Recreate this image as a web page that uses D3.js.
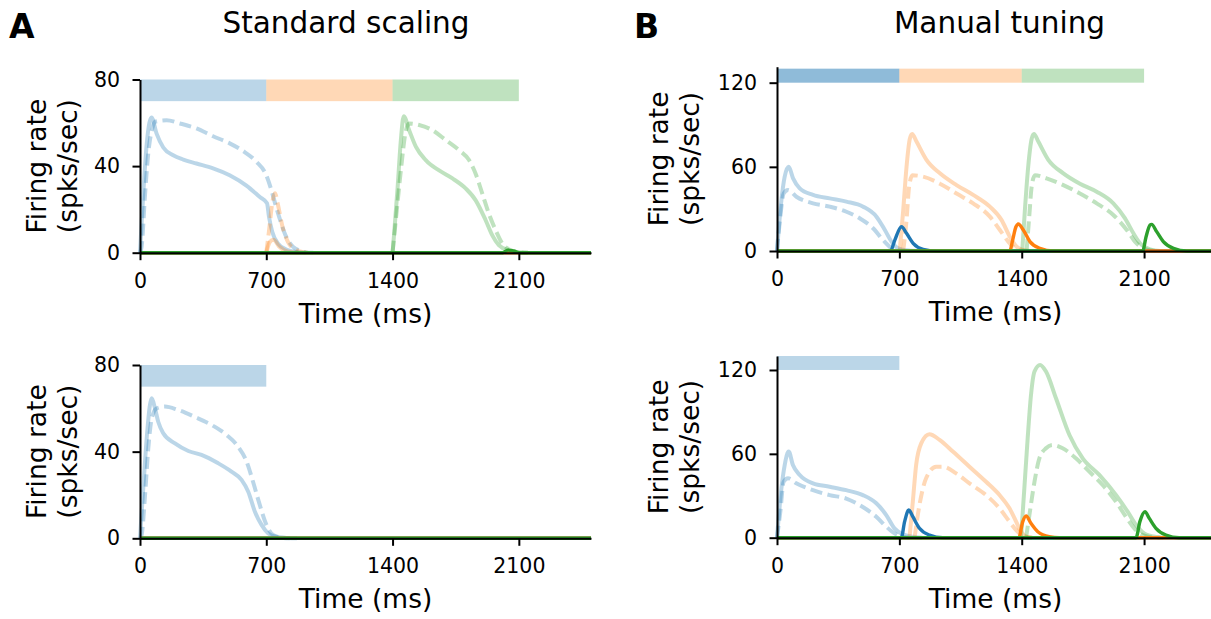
<html>
<head>
<meta charset="utf-8">
<script src="https://d3js.org/d3.v7.min.js"></script>
<style>
  body { margin: 0; background: #fff; }
  svg { display: block; font-family: "DejaVu Sans", sans-serif; }
</style>
</head>
<body>
<svg id="fig" width="1211" height="619"></svg>
<script>

// ---- data (time in ms, rate in spks/sec) ----
var timeTicks = [0, 700, 1400, 2100];
var rateTicksA = [0, 40, 80];
var rateTicksB = [0, 60, 120];
var titles = ["Standard scaling", "Manual tuning"];
var letters = ["A", "B"];

// stimulus windows shown as bars above the traces
var stimAll = [[0, 700], [700, 1400], [1400, 2100]];
var stimFirst = [[0, 700]];

// A, top
var aTopBlue = [[0,0],[18,27],[37,50],[52,60],[64,62.5],[92,55],[129,48.6],[184,45],[240,43],[313,41.2],[405,39],[497,35.8],[590,31],[663,25.8],[704,22.8],[715,16.6],[733,9.7],[764,4.3],[810,1.5],[866,0.3],[920,0]];
var aTopBlueDash = [[0,0],[9,2.8],[28,27],[46,46],[70,58],[83,60.5],[147,61.2],[221,59.7],[313,57.4],[405,53.8],[497,50.5],[571,47],[645,42],[700,35.8],[728,29],[755,21],[783,13.5],[810,7.4],[847,2.8],[884,1],[921,0.15],[960,0]];
var aTopOrange = [[700,0],[720,5],[740,6],[770,3],[820,0.5],[880,0]];
var aTopOrangeDash = [[700,0],[715,10],[735,24],[748,27.5],[765,22],[790,12],[820,5],[860,1.5],[900,0.3],[950,0]];
var aTopGreen = [[1400,0],[1409,9],[1428,30],[1446,52],[1462,63],[1492,56.6],[1529,49],[1584,42.8],[1658,38],[1732,34.3],[1805,29.7],[1860,24.3],[1916,15],[1953,8],[1989,3.5],[2045,1],[2100,0.2],[2150,0]];
var aTopGreenDash = [[1400,0],[1418,15],[1446,38],[1473,56],[1492,59.7],[1547,59],[1621,56.6],[1695,52],[1768,47.4],[1824,42.8],[1860,36.6],[1897,27.4],[1934,18],[1971,10.5],[2008,4.3],[2054,1.2],[2109,0.15],[2150,0]];
var aTopBlueDark = [[0,0],[2500,0]];
var aTopOrangeDark = [[0,0],[2500,0]];
var aTopGreenDark = [[0,0],[2010,0],[2040,1.2],[2070,0.8],[2110,0],[2500,0]];

// A, bottom
var aBotBlue = [[0,0],[18,23],[37,46],[55,61.5],[65,64.6],[83,60],[101,53.8],[129,48.5],[194,43.8],[268,40.3],[341,38.5],[434,34.6],[507,30.8],[563,27],[600,21.5],[637,12.3],[674,6.2],[710,2.3],[747,0.8],[821,0.15],[870,0]];
var aBotBlueDash = [[0,0],[9,1.5],[28,20],[46,41.5],[65,55.4],[92,60],[138,60.8],[212,59.2],[305,56],[397,52.3],[480,47.7],[544,42.3],[591,35.4],[627,26],[664,15.4],[701,6.2],[738,1.5],[784,0.3],[830,0]];
var aBotBlueDark = [[0,0],[2500,0]];
var aBotOrangeDark = [[0,0],[2500,0]];
var aBotGreenDark = [[0,0],[2500,0]];

// B, top
var bTopBlue = [[0,0],[25,36],[44,53],[67,60],[92,51.8],[130,44.7],[206,40],[302,37.5],[397,35.2],[493,31.6],[569,24.5],[617,15],[655,6.7],[693,1.9],[741,0.5],[800,0]];
var bTopBlueDash = [[0,0],[19,24.5],[38,41],[63,43.5],[111,38.7],[206,34],[302,31.6],[397,28],[473,23.3],[550,16.2],[607,7.8],[645,3],[693,0.5],[730,0]];
var bTopOrange = [[702,0],[722,29],[741,60],[760,80],[773,83.4],[798,78],[855,65],[932,55.4],[1027,47],[1122,40],[1218,31.6],[1285,22],[1332,10.2],[1371,3],[1409,0.7],[1450,0]];
var bTopOrangeDash = [[722,0],[741,22],[756,46],[775,54],[836,53],[932,48],[1027,41],[1122,34],[1218,24.5],[1275,15],[1323,6.7],[1361,1.9],[1409,0.2],[1440,0]];
var bTopGreen = [[1403,0],[1418,29],[1437,60],[1457,80],[1470,83.4],[1495,78],[1552,65],[1638,55.4],[1733,48],[1829,42.3],[1924,34],[1991,23.3],[2039,12.6],[2077,5.5],[2134,1.2],[2191,0]];
var bTopGreenDash = [[1428,0],[1443,24.5],[1457,46],[1476,54],[1542,51.8],[1638,47],[1733,41],[1829,34],[1924,25.7],[2001,15],[2048,6.7],[2096,1.9],[2153,0.2],[2190,0]];
var bTopBlueDark = [[0,0],[649,0],[674,7.8],[712,17.3],[741,12.6],[779,5.5],[836,1.2],[912,0],[2500,0]];
var bTopOrangeDark = [[0,0],[1332,0],[1348,7.8],[1367,17.3],[1380,19.2],[1409,15],[1447,6.7],[1504,1.9],[1581,0],[2500,0]];
var bTopGreenDark = [[0,0],[2092,0],[2111,10],[2134,18.5],[2143,19],[2172,13.8],[2210,6.7],[2268,1.9],[2344,0],[2500,0]];

// B, bottom
var bBotBlue = [[0,0],[25,35],[44,52],[67,61.6],[91,52],[130,44.9],[206,38.9],[301,36.5],[396,34],[491,30.5],[568,24.6],[625,16.2],[672,6.7],[720,2.4],[777,0.7],[830,0]];
var bBotBlueDash = [[0,0],[19,18.6],[38,40],[63,42.5],[110,39],[206,34],[301,30.5],[396,28],[491,22],[568,15],[625,7.9],[672,3.1],[720,0.7],[760,0]];
var bBotOrange = [[758,0],[777,25.8],[796,52],[825,67.5],[872,74],[930,70],[1006,61.6],[1101,50.8],[1196,40],[1273,30.5],[1330,21],[1368,11.5],[1396,4.3],[1425,0.7],[1460,0]];
var bBotOrangeDash = [[787,0],[815,23.4],[853,42.5],[911,50.8],[949,50.8],[1025,46],[1101,38.9],[1196,30.5],[1273,21],[1330,11.5],[1377,4.3],[1425,0.7],[1460,0]];
var bBotGreen = [[1396,0],[1415,35.3],[1434,71],[1453,102],[1473,118.9],[1505,123.6],[1539,118.9],[1596,99.8],[1673,73.5],[1749,56.8],[1844,44.9],[1939,30.5],[2006,18.6],[2054,9.1],[2101,3.1],[2168,0.5],[2210,0]];
var bBotGreenDash = [[1425,0],[1444,16.2],[1473,40],[1501,56.8],[1539,64],[1577,66.3],[1634,64],[1710,56.8],[1787,47.3],[1863,37.7],[1939,25.8],[1996,15],[2044,6.7],[2092,1.9],[2149,0.2],[2190,0]];
var bBotBlueDark = [[0,0],[711,0],[730,11.5],[754,19.8],[777,15],[815,6.7],[872,1.9],[949,0],[2500,0]];
var bBotOrangeDark = [[0,0],[1383,0],[1406,11.5],[1425,15.5],[1453,10.3],[1492,4.3],[1558,0.7],[1615,0],[2500,0]];
var bBotGreenDark = [[0,0],[2054,0],[2076,11.5],[2105,18.6],[2130,13.8],[2168,6.7],[2225,1.9],[2301,0],[2500,0]];

// ---- drawing ----
var blue = "#1f77b4", orange = "#ff7f0e", green = "#2ca02c";
var barColors = [blue, orange, green];
var svg = d3.select("#fig");

var panels = [
  { left: 140, right: 591, top: 79.5, zero: 252.7, ymax: 80, yticks: rateTicksA, bar: [70, 80],
    stim: stimAll, barAlpha: [0.3, 0.3, 0.3], labX: 45.5,
    light: [[aTopBlue, blue], [aTopOrange, orange], [aTopGreen, green]],
    dashed: [[aTopBlueDash, blue], [aTopOrangeDash, orange], [aTopGreenDash, green]],
    dark: [[aTopBlueDark, blue], [aTopOrangeDark, orange], [aTopGreenDark, green]] },
  { left: 140, right: 591, top: 365, zero: 538.3, ymax: 80, yticks: rateTicksA, bar: [70, 80],
    stim: stimFirst, barAlpha: [0.3], labX: 45.5,
    light: [[aBotBlue, blue]],
    dashed: [[aBotBlueDash, blue]],
    dark: [[aBotBlueDark, blue], [aBotOrangeDark, orange], [aBotGreenDark, green]] },
  { left: 777, right: 1214, top: 66.7, zero: 251, ymax: 131.4, yticks: rateTicksB, bar: [120, 130],
    stim: stimAll, barAlpha: [0.5, 0.3, 0.3], labX: 667.5,
    light: [[bTopBlue, blue], [bTopOrange, orange], [bTopGreen, green]],
    dashed: [[bTopBlueDash, blue], [bTopOrangeDash, orange], [bTopGreenDash, green]],
    dark: [[bTopBlueDark, blue], [bTopOrangeDark, orange], [bTopGreenDark, green]] },
  { left: 777, right: 1214, top: 356, zero: 537.7, ymax: 130, yticks: rateTicksB, bar: [120, 130],
    stim: stimFirst, barAlpha: [0.3], labX: 667.5,
    light: [[bBotBlue, blue], [bBotOrange, orange], [bBotGreen, green]],
    dashed: [[bBotBlueDash, blue], [bBotOrangeDash, orange], [bBotGreenDash, green]],
    dark: [[bBotBlueDark, blue], [bBotOrangeDark, orange], [bBotGreenDark, green]] }
];

panels.forEach(function(p) {
  var x = d3.scaleLinear().domain([0, 2500]).range([p.left, p.right]);
  var y = d3.scaleLinear().domain([0, p.ymax]).range([p.zero, p.top]);
  var line = d3.line()
      .x(function(d) { return x(d[0]); })
      .y(function(d) { return y(d[1]); })
      .curve(d3.curveMonotoneX);

  var g = svg.append("g");

  // stimulus bars
  g.selectAll("rect.stim").data(p.stim).enter().append("rect")
      .attr("x", function(d) { return x(d[0]); })
      .attr("width", function(d) { return x(d[1]) - x(d[0]); })
      .attr("y", y(p.bar[1]))
      .attr("height", y(p.bar[0]) - y(p.bar[1]))
      .attr("fill", function(d, i) { return barColors[i]; })
      .attr("fill-opacity", function(d, i) { return p.barAlpha[i]; });

  p.light.forEach(function(s) {
    g.append("path").attr("d", line(s[0]))
        .attr("fill", "none").attr("stroke", s[1])
        .attr("stroke-opacity", 0.3).attr("stroke-width", 4)
        .attr("stroke-linejoin", "round");
  });
  p.dashed.forEach(function(s) {
    g.append("path").attr("d", line(s[0]))
        .attr("fill", "none").attr("stroke", s[1])
        .attr("stroke-opacity", 0.3).attr("stroke-width", 4)
        .attr("stroke-dasharray", "12,5.5");
  });
  p.dark.forEach(function(s) {
    g.append("path").attr("d", line(s[0]))
        .attr("fill", "none").attr("stroke", s[1])
        .attr("stroke-width", 3.4).attr("stroke-linejoin", "round");
  });

  // axes
  var ax = g.append("g")
      .attr("transform", "translate(0," + p.zero + ")")
      .call(d3.axisBottom(x).tickValues(timeTicks).tickFormat(d3.format("d"))
          .tickSize(7.5).tickPadding(13).tickSizeOuter(0));
  var ay = g.append("g")
      .attr("transform", "translate(" + p.left + ",0)")
      .call(d3.axisLeft(y).tickValues(p.yticks).tickFormat(d3.format("d"))
          .tickSize(7.5).tickPadding(12.5).tickSizeOuter(0));
  [ax, ay].forEach(function(a) {
    a.selectAll("path, line").attr("stroke", "#000").attr("stroke-width", 2);
    a.selectAll("text").attr("font-size", "20.5px").attr("fill", "#000")
        .attr("font-family", "DejaVu Sans, sans-serif");
  });

  // axis labels
  g.append("text")
      .attr("x", (p.left + x(2500)) / 2)
      .attr("y", p.zero + 70)
      .attr("text-anchor", "middle")
      .attr("font-size", "26.5px")
      .text("Time (ms)");
  var cy = (p.zero + p.top) / 2;
  ["Firing rate", "(spks/sec)"].forEach(function(t, i) {
    g.append("text")
        .attr("transform", "translate(" + (p.labX + i * 31) + "," + cy + ") rotate(-90)")
        .attr("text-anchor", "middle")
        .attr("font-size", "26.5px")
        .text(t);
  });
});

// titles and panel letters
svg.append("text").attr("x", 346).attr("y", 33).attr("text-anchor", "middle")
    .attr("font-size", "29.5px").text(titles[0]);
svg.append("text").attr("x", 999.5).attr("y", 33).attr("text-anchor", "middle")
    .attr("font-size", "29.5px").text(titles[1]);
svg.append("text").attr("x", 9).attr("y", 38).attr("font-size", "33px")
    .attr("font-weight", "bold").text(letters[0]);
svg.append("text").attr("x", 634).attr("y", 38).attr("font-size", "33px")
    .attr("font-weight", "bold").text(letters[1]);

</script>
</body>
</html>
